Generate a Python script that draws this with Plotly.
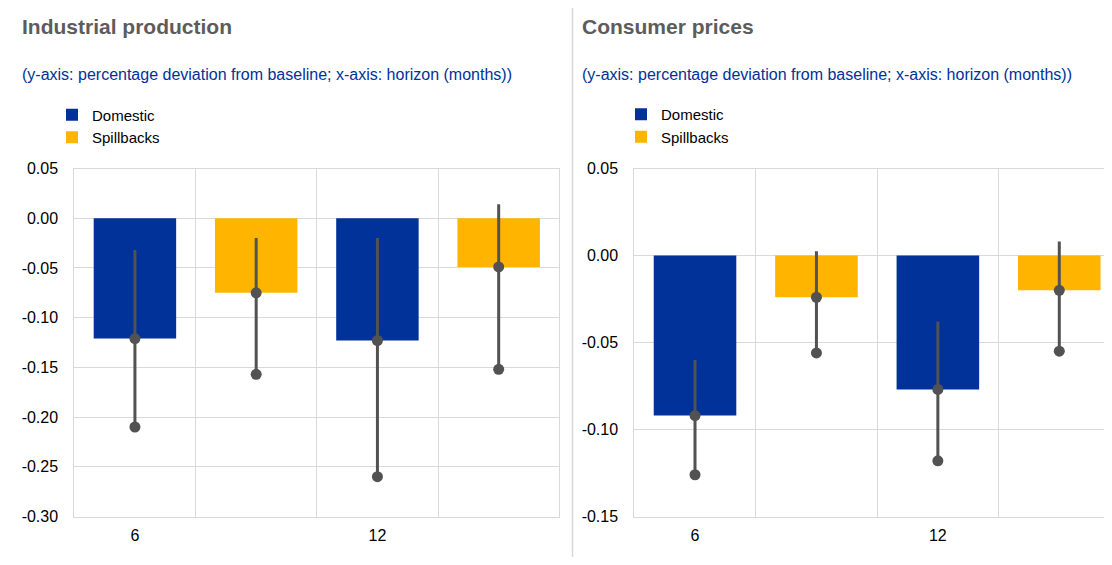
import plotly.graph_objects as go

# ---- data ----
horizons = ["6", "12"]
series_names = ["Domestic", "Spillbacks"]

# Industrial production
ip_domestic = [-0.121, -0.123]
ip_domestic_upper = [-0.032, -0.020]
ip_domestic_lower = [-0.210, -0.260]
ip_spill = [-0.075, -0.049]
ip_spill_upper = [-0.020, 0.014]
ip_spill_lower = [-0.157, -0.152]

# Consumer prices
cp_domestic = [-0.092, -0.077]
cp_domestic_upper = [-0.060, -0.038]
cp_domestic_lower = [-0.126, -0.118]
cp_spill = [-0.024, -0.020]
cp_spill_upper = [0.0025, 0.008]
cp_spill_lower = [-0.056, -0.055]

ip_ticks = [0.05, 0.00, -0.05, -0.10, -0.15, -0.20, -0.25, -0.30]
cp_ticks = [0.05, 0.00, -0.05, -0.10, -0.15]

titles = ["Industrial production", "Consumer prices"]
subtitle = "(y-axis: percentage deviation from baseline; x-axis: horizon (months))"

# ---- styles ----
BLUE = "#003299"
YELLOW = "#FFB400"
WHISKER = "#525252"
GRID = "#D9D9D9"
FONT = "Liberation Sans, Arial, sans-serif"
W, H = 1112, 565
OFF = 8  # page offset of the figure inside the browser window


def fx(px):
    return (px - OFF) / W


def fy(py):
    return 1 - (py - OFF) / H


def fmt(v):
    return f"{v:.2f}"


fig = go.Figure()

dom_x = [2 * i for i in range(len(horizons))]
spl_x = [2 * i + 1 for i in range(len(horizons))]


def add_panel(xa, ya, legend, dom, dom_up, dom_lo, spl, spl_up, spl_lo):
    fig.add_trace(go.Bar(x=dom_x, y=dom, name=series_names[0], marker_color=BLUE,
                         marker_line_width=0, width=0.68, xaxis=xa, yaxis=ya,
                         legend=legend, hoverinfo="skip"))
    fig.add_trace(go.Bar(x=spl_x, y=spl, name=series_names[1], marker_color=YELLOW,
                         marker_line_width=0, width=0.68, xaxis=xa, yaxis=ya,
                         legend=legend, hoverinfo="skip"))
    xs = dom_x + spl_x
    ys = dom + spl
    ups = dom_up + spl_up
    los = dom_lo + spl_lo
    fig.add_trace(go.Scatter(
        x=xs, y=ys, mode="markers",
        marker=dict(size=11, color=WHISKER),
        error_y=dict(type="data", symmetric=False,
                     array=[u - v for u, v in zip(ups, ys)],
                     arrayminus=[v - l for v, l in zip(ys, los)],
                     color=WHISKER, thickness=3, width=0),
        xaxis=xa, yaxis=ya, showlegend=False, hoverinfo="skip"))
    fig.add_trace(go.Scatter(
        x=xs, y=los, mode="markers",
        marker=dict(size=11, color=WHISKER),
        xaxis=xa, yaxis=ya, showlegend=False, hoverinfo="skip"))


add_panel("x", "y", "legend", ip_domestic, ip_domestic_upper, ip_domestic_lower,
          ip_spill, ip_spill_upper, ip_spill_lower)
add_panel("x2", "y2", "legend2", cp_domestic, cp_domestic_upper, cp_domestic_lower,
          cp_spill, cp_spill_upper, cp_spill_lower)

ydom = [fy(516.5), fy(168.5)]

common_x = dict(
    tickmode="array", tickvals=dom_x, ticktext=horizons,
    showgrid=False, zeroline=False, ticks="",
    showline=True, linecolor=GRID, linewidth=1, mirror=True,
    tickfont=dict(size=16, color="#000000", family=FONT),
    ticklabelstandoff=4, automargin=False,
    minor=dict(tickmode="linear", tick0=0.5, dtick=1, showgrid=True,
               gridcolor=GRID, gridwidth=1, ticks=""),
    fixedrange=True,
)
common_y = dict(
    showgrid=True, gridcolor=GRID, gridwidth=1,
    zeroline=True, zerolinecolor=GRID, zerolinewidth=1,
    showline=True, linecolor=GRID, linewidth=1, mirror=True,
    ticks="",
    tickfont=dict(size=16, color="#000000", family=FONT),
    ticklabelstandoff=12, automargin=False,
    fixedrange=True,
)

fig.update_layout(
    xaxis=dict(domain=[fx(74.3), fx(559.3)], range=[-0.5, 3.5], anchor="y", **common_x),
    yaxis=dict(domain=ydom, range=[-0.30, 0.05], tickmode="array", tickvals=ip_ticks,
               ticktext=[fmt(v) for v in ip_ticks], anchor="x", **common_y),
    xaxis2=dict(domain=[fx(634.3), 1.0], range=[-0.5, 3.5], anchor="y2", **common_x),
    yaxis2=dict(domain=ydom, range=[-0.15, 0.05], tickmode="array", tickvals=cp_ticks,
                ticktext=[fmt(v) for v in cp_ticks], anchor="x2", **common_y),
    barmode="overlay",
    width=W, height=H,
    margin=dict(l=0, r=0, t=0, b=0, autoexpand=False),
    plot_bgcolor="white", paper_bgcolor="white",
    font=dict(family=FONT, size=16, color="#000000"),
    legend=dict(x=fx(52), xanchor="left", y=fy(98.5), yanchor="top",
                font=dict(size=15, color="#000000", family=FONT),
                bgcolor="rgba(0,0,0,0)", traceorder="normal"),
    legend2=dict(x=fx(621), xanchor="left", y=fy(98), yanchor="top",
                 font=dict(size=15, color="#000000", family=FONT),
                 bgcolor="rgba(0,0,0,0)", traceorder="normal"),
    showlegend=True,
)

for px, t in zip([20, 580], titles):
    fig.add_annotation(text="<b>" + t + "</b>", xref="paper", yref="paper",
                       x=fx(px), y=fy(26), xanchor="left", yanchor="middle",
                       showarrow=False,
                       font=dict(size=21, color="#5C5C5C", family=FONT))
    fig.add_annotation(text=subtitle, xref="paper", yref="paper",
                       x=fx(px), y=fy(75), xanchor="left", yanchor="middle",
                       showarrow=False,
                       font=dict(size=16, color=BLUE, family=FONT))

fig.add_shape(type="line", xref="paper", yref="paper",
              x0=fx(572.5), x1=fx(572.5), y0=fy(557), y1=1.0,
              line=dict(color=GRID, width=1.5))

fig.write_html("out.html")
